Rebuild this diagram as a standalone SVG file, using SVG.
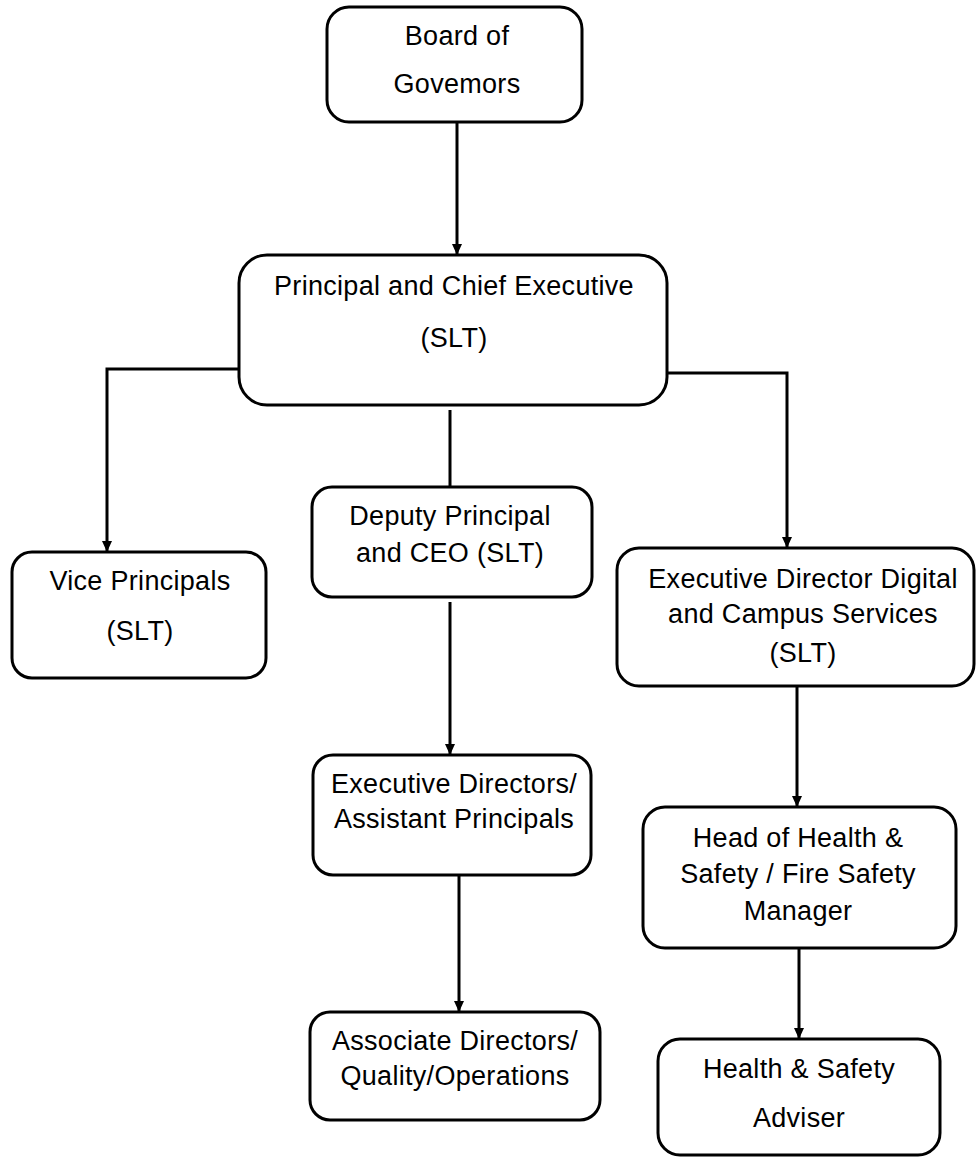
<svg xmlns="http://www.w3.org/2000/svg" width="976" height="1158" viewBox="0 0 976 1158">
<style>
.box{fill:#fff;stroke:#000;stroke-width:3}
.t{font-family:"Liberation Sans",Arial,sans-serif;font-size:27px;letter-spacing:0.3px;fill:#000;text-anchor:middle}
.c{fill:none;stroke:#000;stroke-width:3}
</style>
<defs>
<marker id="ah" markerUnits="userSpaceOnUse" markerWidth="12" markerHeight="12" refX="11" refY="5" orient="auto">
<path d="M0,0 L11,5 L0,10 z" fill="#000"/>
</marker>
</defs>
<rect width="976" height="1158" fill="#fff"/>
<g id="connectors">
<path class="c" d="M457,122 L457,255" marker-end="url(#ah)"/>
<path class="c" d="M244,369 L107,369 L107,552" marker-end="url(#ah)"/>
<path class="c" d="M665,373 L787,373 L787,548" marker-end="url(#ah)"/>
<path class="c" d="M450,410 L450,487"/>
<path class="c" d="M450,602 L450,755" marker-end="url(#ah)"/>
<path class="c" d="M459,875 L459,1012" marker-end="url(#ah)"/>
<path class="c" d="M797,673 L797,807" marker-end="url(#ah)"/>
<path class="c" d="M799,948 L799,1039" marker-end="url(#ah)"/>
</g>
<g id="board">
<rect class="box" x="327" y="7" width="255" height="115" rx="22"/>
<text class="t" x="457" y="45">Board of</text>
<text class="t" x="457" y="93">Govemors</text>
</g>
<g id="principal">
<rect class="box" x="239" y="255" width="428" height="150" rx="28"/>
<text class="t" x="454" y="295">Principal and Chief Executive</text>
<text class="t" x="454" y="347">(SLT)</text>
</g>
<g id="vice">
<rect class="box" x="12" y="552" width="254" height="126" rx="20"/>
<text class="t" x="140" y="590">Vice Principals</text>
<text class="t" x="140" y="640">(SLT)</text>
</g>
<g id="deputy">
<rect class="box" x="312" y="487" width="280" height="110" rx="20"/>
<text class="t" x="450" y="525">Deputy Principal</text>
<text class="t" x="450" y="562">and CEO (SLT)</text>
</g>
<g id="execdigital">
<rect class="box" x="617" y="548" width="357" height="138" rx="22"/>
<text class="t" x="803" y="588">Executive Director Digital</text>
<text class="t" x="803" y="623">and Campus Services</text>
<text class="t" x="803" y="662">(SLT)</text>
</g>
<g id="execdirectors">
<rect class="box" x="313" y="755" width="278" height="120" rx="20"/>
<text class="t" x="454" y="793">Executive Directors/</text>
<text class="t" x="454" y="828">Assistant Principals</text>
</g>
<g id="associate">
<rect class="box" x="310" y="1012" width="290" height="108" rx="20"/>
<text class="t" x="455" y="1050">Associate Directors/</text>
<text class="t" x="455" y="1085">Quality/Operations</text>
</g>
<g id="head">
<rect class="box" x="643" y="807" width="313" height="141" rx="22"/>
<text class="t" x="798" y="847">Head of Health &amp;</text>
<text class="t" x="798" y="883">Safety / Fire Safety</text>
<text class="t" x="798" y="920">Manager</text>
</g>
<g id="adviser">
<rect class="box" x="658" y="1039" width="282" height="116" rx="22"/>
<text class="t" x="799" y="1078">Health &amp; Safety</text>
<text class="t" x="799" y="1127">Adviser</text>
</g>
</svg>
